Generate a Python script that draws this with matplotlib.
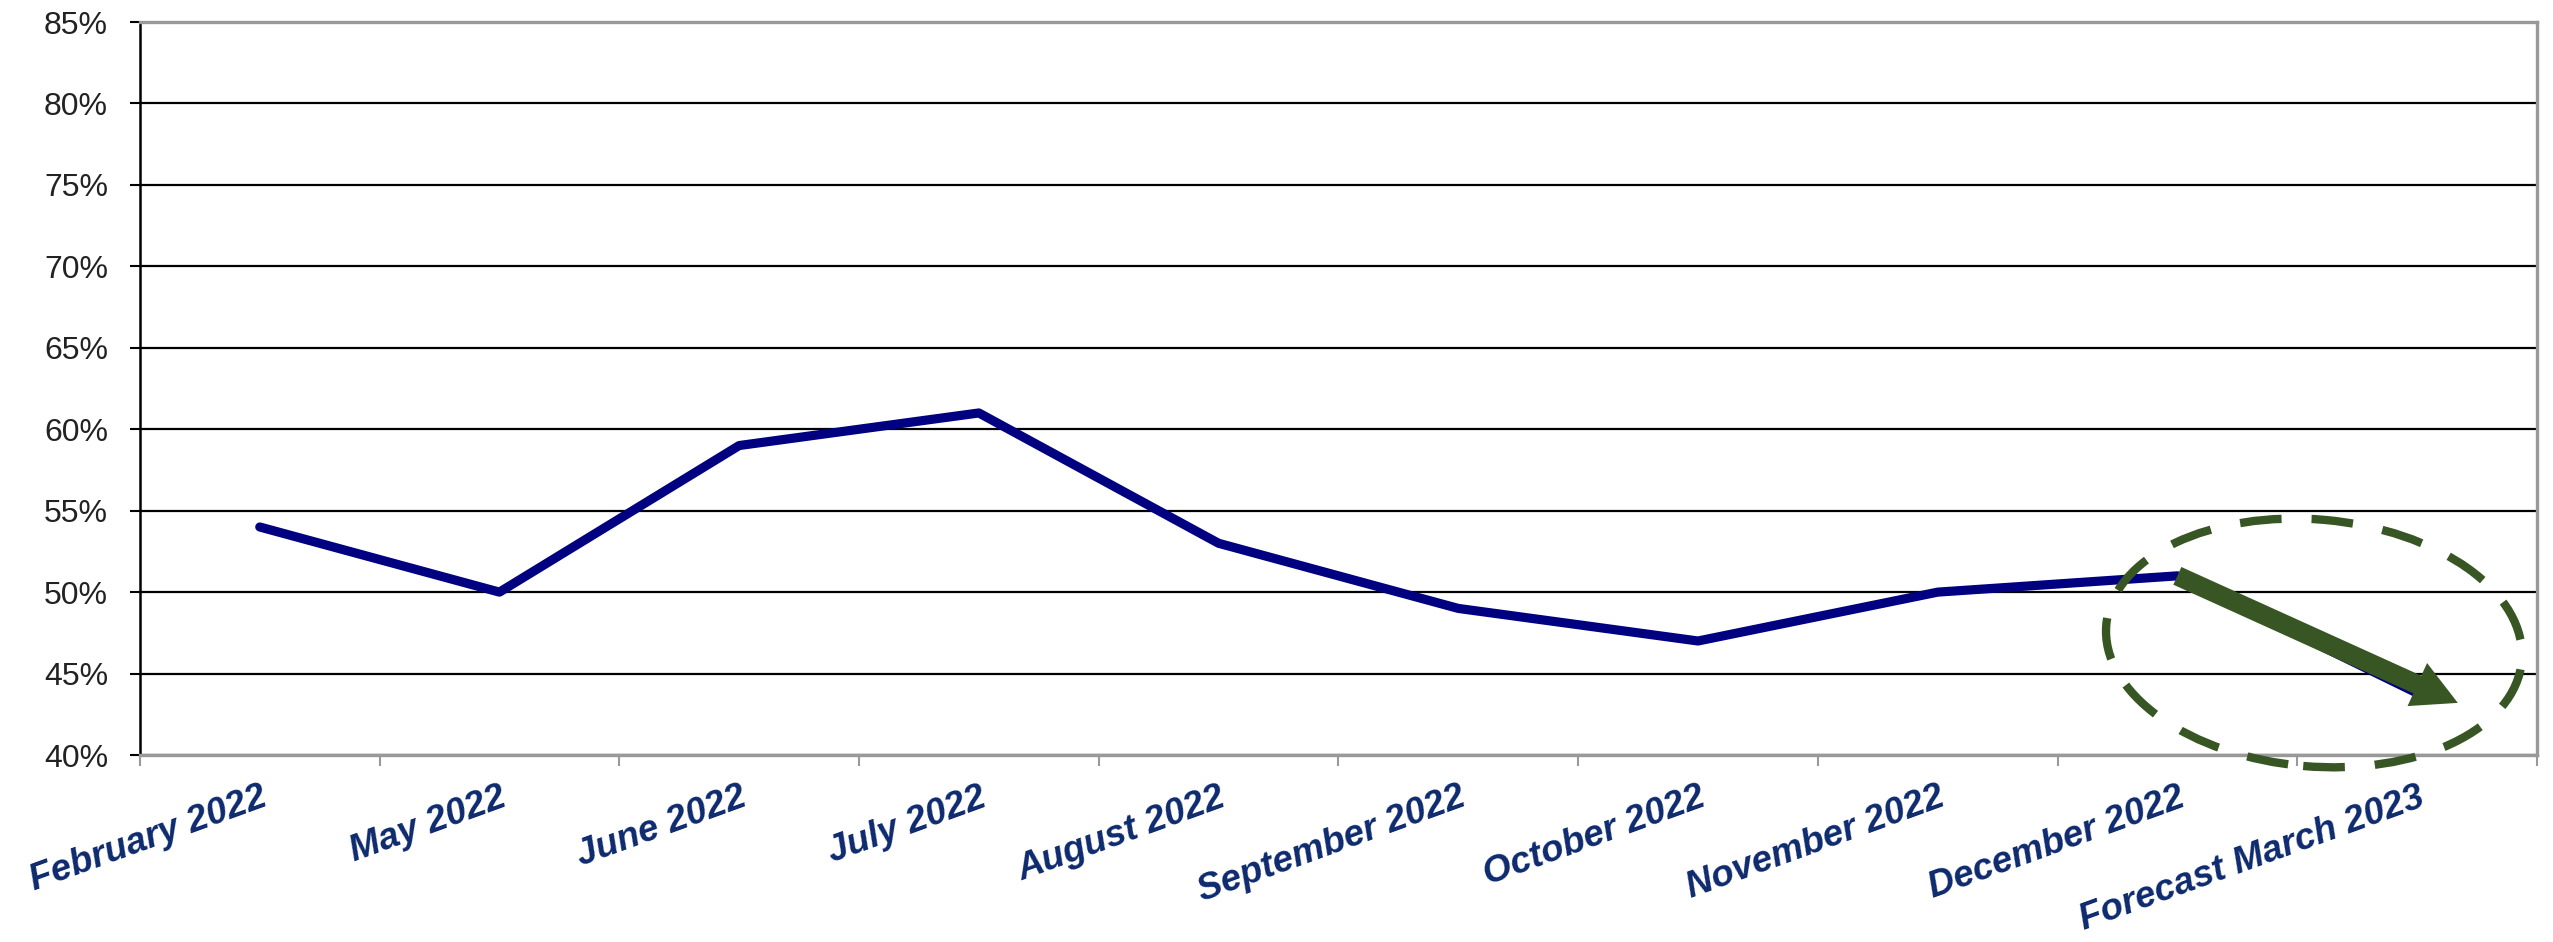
import matplotlib
matplotlib.use("Agg")
from matplotlib import pyplot as plt
from matplotlib.patches import Ellipse
from matplotlib.transforms import ScaledTranslation

plt.rcParams['font.family'] = ['Liberation Sans', 'DejaVu Sans']

months = ['February 2022', 'May 2022', 'June 2022', 'July 2022', 'August 2022',
          'September 2022', 'October 2022', 'November 2022', 'December 2022',
          'Forecast March 2023']
values = [54, 50, 59, 61, 53, 49, 47, 50, 51, 43.8]
y_ticks = [40, 45, 50, 55, 60, 65, 70, 75, 80, 85]

navy = '#000080'
green = '#375623'
label_blue = '#0D2A6E'

fig = plt.figure(figsize=(25.53, 9.42), dpi=100)
ax = fig.add_axes([0.0548, 0.1985, 0.9389, 0.7781])

x = list(range(len(months)))
ax.plot(x, values, color=navy, lw=6.6, solid_capstyle='round', zorder=3)

# y axis
ax.set_ylim(40, 85)
ax.set_yticks(y_ticks)
ax.set_yticklabels(['%d%%' % v for v in y_ticks], fontsize=23, color='#222222')
ax.tick_params(axis='y', length=7, width=1.5, color='black', pad=16)
ax.yaxis.grid(True, color='black', lw=1.6)
ax.set_axisbelow(True)

# x axis: labels at centres, tick marks between categories
ax.set_xlim(-0.5, len(months) - 0.5)
ax.set_xticks(x)
ax.set_xticklabels(months, rotation=20, ha='right', va='top',
                   rotation_mode='anchor', fontsize=26.5, fontweight='bold',
                   fontstyle='italic', color=label_blue)
ax.tick_params(axis='x', length=0, pad=18)
ax.set_xticks([i - 0.5 for i in range(len(months) + 1)], minor=True)
ax.tick_params(axis='x', which='minor', length=8, width=1.5, color='#999999')

for side in ['top', 'right', 'bottom']:
    ax.spines[side].set_color('#999999')
    ax.spines[side].set_linewidth(2.4)
ax.spines['left'].set_color('black')
ax.spines['left'].set_linewidth(1.8)

# forecast arrow from December to March
ax.annotate('', xy=(9.17, 43.2), xytext=(8, values[8]),
            arrowprops=dict(arrowstyle='simple,head_length=3.2,head_width=3.4,tail_width=1.4',
                            mutation_scale=10, color=green, lw=0,
                            shrinkA=0, shrinkB=0), zorder=5)

# dashed circle around the forecast
ell = Ellipse((0, 0), 4.17, 2.47, angle=-5, fill=False, edgecolor=green,
              lw=6, linestyle=(0, (5, 3.6)),
              transform=fig.dpi_scale_trans + ScaledTranslation(8.57, 46.88, ax.transData),
              clip_on=False, zorder=6)
ax.add_patch(ell)

fig.savefig('out.png', dpi=100, facecolor='white')
